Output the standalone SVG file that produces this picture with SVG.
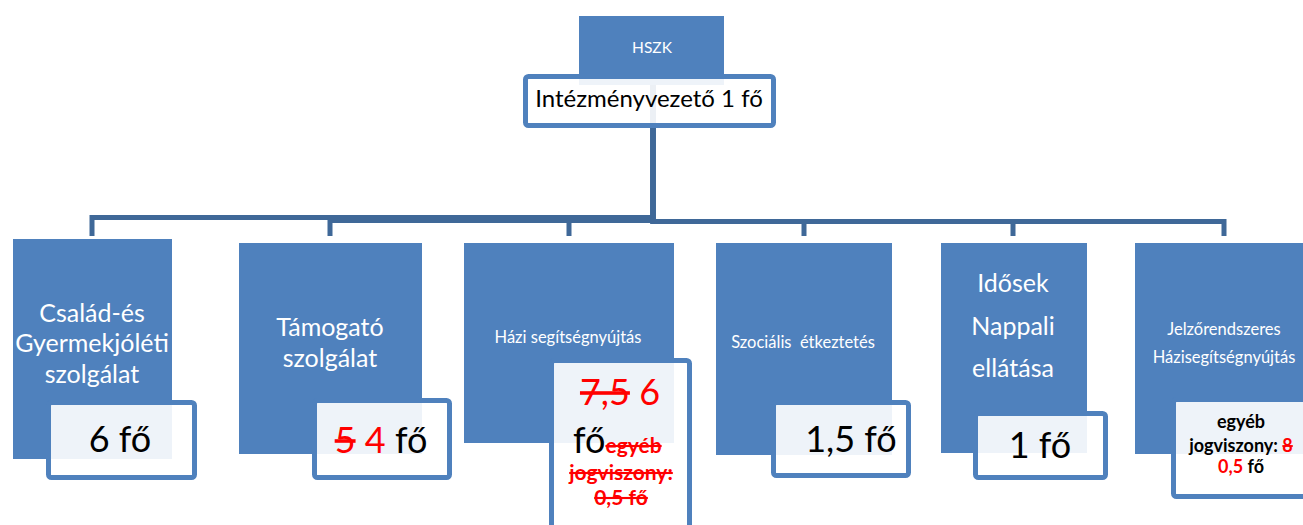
<svg xmlns="http://www.w3.org/2000/svg" width="1303" height="525" viewBox="0 0 1303 525">
<style>
.box{fill:#4f81bd;}
.lbl{fill:#ffffff;fill-opacity:0.9;stroke:#4f81bd;stroke-width:5;}
.con{fill:none;stroke:#3f6898;stroke-width:5;}
.wt{font-family:Lato,"Liberation Sans",sans-serif;fill:#ffffff;text-anchor:middle;}
.bt{font-family:Lato,"Liberation Sans",sans-serif;fill:#000000;text-anchor:middle;}
.big{font-size:36px;}
.red{fill:#ff0000;}
.st{text-decoration:line-through;}
.b{font-weight:bold;}
</style>
<rect width="1303" height="525" fill="#ffffff"/>
<g id="connectors">
<path class="con" d="M653,85 V217.5 H92 V236"/>
<path class="con" d="M653,85 V220.5 H330 V236"/>
<path class="con" d="M653,85 V220.5 H569 V236"/>
<path class="con" d="M653,85 V221.5 H804 V236"/>
<path class="con" d="M653,85 V221.5 H1013 V236"/>
<path class="con" d="M653,85 V221.5 H1224 V236"/>
</g>
<g id="hszk">
<rect class="box" x="579" y="16" width="145" height="69"/>
<text class="wt" x="652" y="53" font-size="15.5">HSZK</text>
<rect class="lbl" x="525.5" y="76.5" width="248" height="49" rx="3"/>
<text class="bt" x="649" y="107" font-size="24">Intézményvezető 1 fő</text>
</g>
<g id="csaladsegito">
<rect class="box" x="13" y="239" width="159" height="220"/>
<text class="wt" font-size="25"><tspan x="92" y="322">Család-és</tspan><tspan x="92" y="352">Gyermekjóléti</tspan><tspan x="92" y="383">szolgálat</tspan></text>
<rect class="lbl" x="48.5" y="402.5" width="146" height="75" rx="3"/>
<text class="bt big" x="120" y="452">6 fő</text>
</g>
<g id="tamogato">
<rect class="box" x="239" y="243" width="183" height="211"/>
<text class="wt" font-size="25"><tspan x="330" y="336">Támogató</tspan><tspan x="330" y="367">szolgálat</tspan></text>
<rect class="lbl" x="314.5" y="400.5" width="135" height="77" rx="3"/>
<text class="bt big" x="381" y="453"><tspan class="red st">5</tspan> <tspan class="red">4</tspan> fő</text>
</g>
<g id="hazisegito">
<rect class="box" x="464" y="243" width="210" height="200"/>
<text class="wt" x="568" y="343" font-size="16.5">Házi segítségnyújtás</text>
<rect class="lbl" x="551.5" y="360.5" width="138" height="200" rx="3"/>
<text class="bt big" x="620" y="405"><tspan class="red st">7,5</tspan> <tspan class="red">6</tspan></text>
<text class="bt big" x="573" y="453" style="text-anchor:start">fő<tspan class="red st b" font-size="21">egyéb</tspan></text>
<text class="bt red st b" font-size="21"><tspan x="621" y="480">jogviszony:</tspan><tspan x="621" y="505">0,5 fő</tspan></text>
</g>
<g id="etkeztetes">
<rect class="box" x="716" y="243" width="176" height="212"/>
<text class="wt" x="803" y="348" font-size="16.5" xml:space="preserve">Szociális  étkeztetés</text>
<rect class="lbl" x="773.5" y="402.5" width="135" height="73" rx="3"/>
<text class="bt big" x="851" y="452">1,5 fő</text>
</g>
<g id="nappali">
<rect class="box" x="941" y="243" width="146" height="210"/>
<text class="wt" font-size="25"><tspan x="1013" y="292">Idősek</tspan><tspan x="1013" y="335">Nappali</tspan><tspan x="1013" y="377">ellátása</tspan></text>
<rect class="lbl" x="975.5" y="413.5" width="130" height="64" rx="3"/>
<text class="bt big" x="1040" y="458">1 fő</text>
</g>
<g id="jelzorendszer">
<rect class="box" x="1135" y="243" width="175" height="211"/>
<text class="wt" font-size="16.5"><tspan x="1224" y="335">Jelzőrendszeres</tspan><tspan x="1224" y="363">Házisegítségnyújtás</tspan></text>
<rect class="lbl" x="1173.5" y="399.5" width="150" height="97" rx="3"/>
<text class="bt b" font-size="18"><tspan x="1241" y="428">egyéb</tspan><tspan x="1241" y="452">jogviszony: <tspan class="red st">8</tspan></tspan><tspan x="1241" y="473"><tspan class="red">0,5</tspan> fő</tspan></text>
</g>
</svg>
